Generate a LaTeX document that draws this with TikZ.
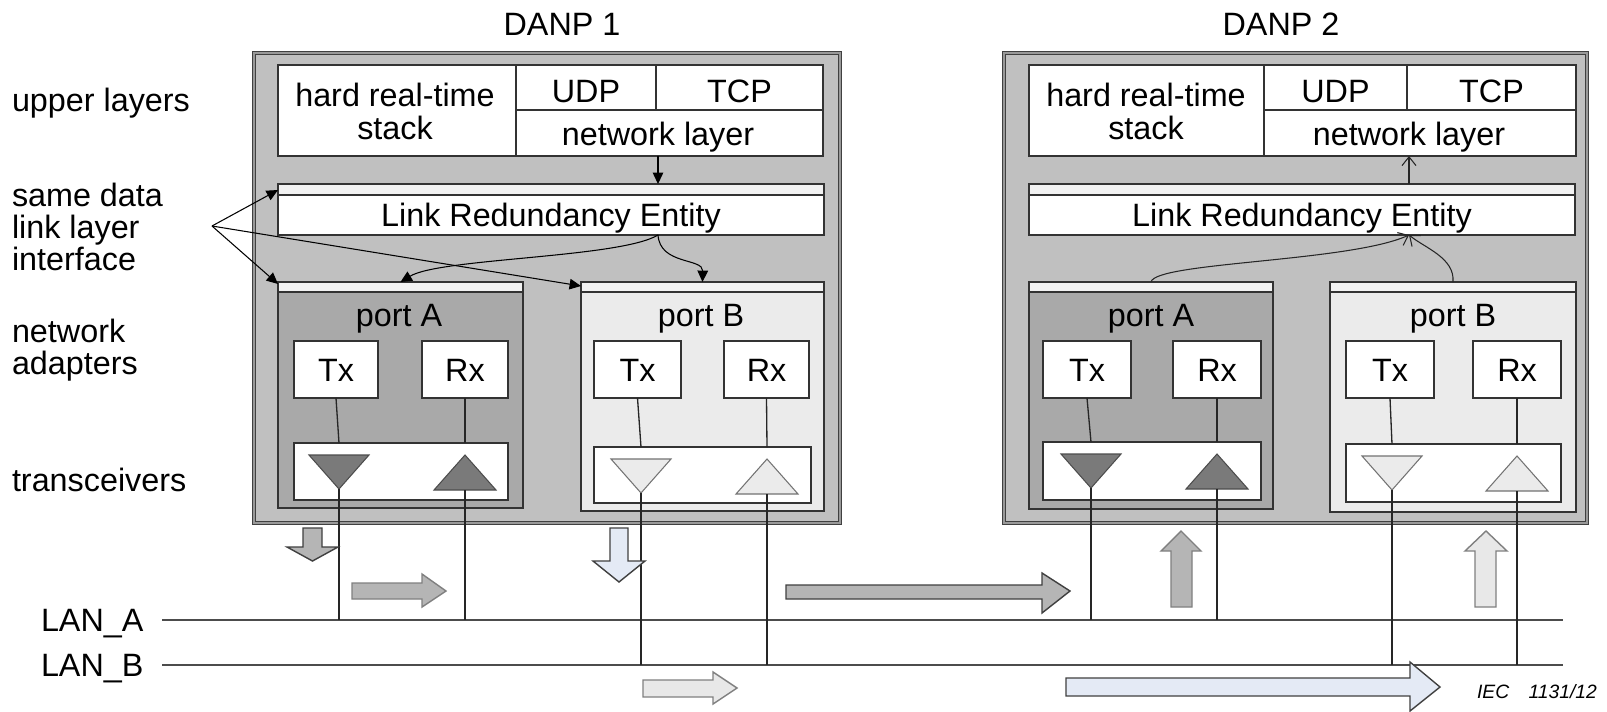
\documentclass[tikz,border=0pt]{standalone}
\usepackage{fontspec}
\setmainfont{Liberation Sans}
\usetikzlibrary{arrows.meta,fit,calc}
\definecolor{danpfill}{HTML}{C0C0C0}
\definecolor{portAfill}{HTML}{A9A9A9}
\definecolor{portBfill}{HTML}{EBEBEB}
\definecolor{stripfill}{HTML}{F2F2F2}
\definecolor{triAfill}{HTML}{7A7A7A}
\definecolor{triBfill}{HTML}{EBEBEB}
\definecolor{arrgray}{HTML}{B5B5B5}
\definecolor{arrlight}{HTML}{E8E8E8}
\definecolor{arrblue}{HTML}{E4EAF5}
\begin{document}
\begin{tikzpicture}[x=0.02cm,y=-0.02cm,
  every node/.style={inner sep=0pt,outer sep=0pt,font=\fontsize{18.4}{18.4}\selectfont},
  lbl/.style={anchor=base},
  lblw/.style={anchor=base west},
  danpbox/.style={draw=black!75,double=black!40,double distance=1.2pt,line width=0.6pt,fill=danpfill},
  wbox/.style={draw=black!80,line width=0.8pt,fill=white},
  portAbox/.style={draw=black!80,line width=0.9pt,fill=portAfill},
  portBbox/.style={draw=black!80,line width=0.9pt,fill=portBfill},
  strip/.style={draw=black!80,line width=0.8pt,fill=stripfill},
  wire/.style={draw=black!85,line width=0.75pt},
  lan/.style={draw=black!70,line width=1.1pt},
  pointer/.style={draw=black,line width=0.6pt,-{Triangle[length=6.5pt,width=6pt]}},
  opener/.style={draw=black!85,line width=0.6pt,-{Straight Barb[length=5pt,width=8pt]}},
  triA/.style={draw=black!70,line width=0.6pt,fill=triAfill},
  triB/.style={draw=black!55,line width=0.6pt,fill=triBfill},
  blkdark/.style={draw=black!75,line width=0.8pt,line join=miter},
  blkpale/.style={draw=black!50,line width=0.8pt,line join=miter},
]
\useasboundingbox (0,0) rectangle (1607,711);
\fill[white] (0,0) rectangle (1607,711);

% ---------- titles and layer labels ----------
\node[lbl] (t1) at (562,35) {DANP 1};
\node[lbl] (t2) at (1281,35) {DANP 2};
\node[lblw] (l1) at (12,111) {upper layers};
\node[lblw] (l2a) at (12,206) {same data};
\node[lblw] (l2b) at (12,238) {link layer};
\node[lblw] (l2c) at (12,270) {interface};
\node[lblw] (l3a) at (12,342) {network};
\node[lblw] (l3b) at (12,374) {adapters};
\node[lblw] (l4) at (12,491) {transceivers};
\node[lblw] (lanAt) at (41,631) {LAN\_A};
\node[lblw] (lanBt) at (41,676) {LAN\_B};
\node[anchor=base west,font=\fontsize{11}{12}\selectfont\itshape] (iec) at (1477,698) {IEC\quad 1131/12};

% ---------- LAN lines ----------
\coordinate (lanA0) at (162,620);
\coordinate (lanA1) at (1563,620);
\coordinate (lanB0) at (162,665);
\coordinate (lanB1) at (1563,665);
\draw[lan] (lanA0) -- (lanA1);
\draw[lan] (lanB0) -- (lanB1);

% ================= DANP 1 =================
\node[danpbox, fit={(254,53) (840,523)}] (danp1) {};
\node[wbox, fit={(278,65) (516,156)}] (hrt1) {};
\node[wbox, fit={(516,65) (656,110)}] (udp1) {};
\node[wbox, fit={(656,65) (823,110)}] (tcp1) {};
\node[wbox, fit={(516,110) (823,156)}] (net1) {};
\node[lbl] (hrt1a) at (395,106) {hard real-time};
\node[lbl] (hrt1b) at (395,139) {stack};
\node[lbl] (udp1t) at (586,102) {UDP};
\node[lbl] (tcp1t) at (739.5,102) {TCP};
\node[lbl] (nl1) at (658,145) {network layer};

\node[wbox, fit={(278,184) (824,235)}] (lre1) {};
\node[strip, fit={(278,184) (824,195)}] (lre1s) {};
\node[lbl] (lre1t) at (551,226) {Link Redundancy Entity};

\node[portAbox, fit={(278,282) (523,508)}] (pA1) {};
\node[strip, fit={(278,282) (523,292)}] (pA1s) {};
\node[lbl] (pA1t) at (399,326) {port A};
\node[wbox, fit={(294,341) (378,398)}] (txA1) {};
\node[wbox, fit={(422,341) (508,398)}] (rxA1) {};
\node[wbox, fit={(294,443) (508,500)}] (trxA1) {};
\draw[triA] (309,455) -- (369,455) -- (339,489) -- cycle;
\draw[triA] (465,455) -- (496,490) -- (434,490) -- cycle;
\coordinate (dnA1) at (339,489);
\coordinate (upA1) at (465,490);

\node[portBbox, fit={(581,282) (824,511)}] (pB1) {};
\node[strip, fit={(581,282) (824,292)}] (pB1s) {};
\node[lbl] (pB1t) at (701,326) {port B};
\node[wbox, fit={(594,341) (681,398)}] (txB1) {};
\node[wbox, fit={(724,341) (809,398)}] (rxB1) {};
\node[wbox, fit={(594,447) (811,503)}] (trxB1) {};
\draw[triB] (611,459) -- (671,459) -- (641,493) -- cycle;
\draw[triB] (767,459) -- (798,494) -- (736,494) -- cycle;
\coordinate (dnB1) at (641,493);
\coordinate (upB1) at (767,494);

% ================= DANP 2 =================
\node[danpbox, fit={(1004,53) (1587,523)}] (danp2) {};
\node[wbox, fit={(1029,65) (1264,156)}] (hrt2) {};
\node[wbox, fit={(1264,65) (1407,110)}] (udp2) {};
\node[wbox, fit={(1407,65) (1576,110)}] (tcp2) {};
\node[wbox, fit={(1264,110) (1576,156)}] (net2) {};
\node[lbl] (hrt2a) at (1146,106) {hard real-time};
\node[lbl] (hrt2b) at (1146,139) {stack};
\node[lbl] (udp2t) at (1335.5,102) {UDP};
\node[lbl] (tcp2t) at (1491.5,102) {TCP};
\node[lbl] (nl2) at (1409,145) {network layer};

\node[wbox, fit={(1029,184) (1575,235)}] (lre2) {};
\node[strip, fit={(1029,184) (1575,195)}] (lre2s) {};
\node[lbl] (lre2t) at (1302,226) {Link Redundancy Entity};

\node[portAbox, fit={(1029,282) (1273,509)}] (pA2) {};
\node[strip, fit={(1029,282) (1273,292)}] (pA2s) {};
\node[lbl] (pA2t) at (1151,326) {port A};
\node[wbox, fit={(1043,341) (1131,398)}] (txA2) {};
\node[wbox, fit={(1173,341) (1261,398)}] (rxA2) {};
\node[wbox, fit={(1043,442) (1261,500)}] (trxA2) {};
\draw[triA] (1061,454) -- (1121,454) -- (1091,488) -- cycle;
\draw[triA] (1217,454) -- (1248,489) -- (1186,489) -- cycle;
\coordinate (dnA2) at (1091,488);
\coordinate (upA2) at (1217,489);

\node[portBbox, fit={(1330,282) (1576,512)}] (pB2) {};
\node[strip, fit={(1330,282) (1576,292)}] (pB2s) {};
\node[lbl] (pB2t) at (1453,326) {port B};
\node[wbox, fit={(1346,341) (1434,398)}] (txB2) {};
\node[wbox, fit={(1473,341) (1561,398)}] (rxB2) {};
\node[wbox, fit={(1346,444) (1561,502)}] (trxB2) {};
\draw[triB] (1362,456) -- (1422,456) -- (1392,490) -- cycle;
\draw[triB] (1517,456) -- (1548,491) -- (1486,491) -- cycle;
\coordinate (dnB2) at (1392,490);
\coordinate (upB2) at (1517,491);

% ---------- Tx/Rx labels, links to transceivers and down to the LANs ----------
\foreach \p/\lan in {A1/lanA0,B1/lanB0,A2/lanA0,B2/lanB0}{
  \node[lbl] (tx\p t) at ($(tx\p.center)+(0,12)$) {Tx};
  \node[lbl] (rx\p t) at ($(rx\p.center)+(0,12)$) {Rx};
  \draw[wire] (tx\p.south) -- (trx\p.north -| dn\p);
  \draw[wire] (rx\p.south) -- (trx\p.north -| up\p);
  \draw[wire] (dn\p) -- (dn\p |- \lan);
  \draw[wire] (up\p) -- (up\p |- \lan);
}

% ---------- internal arrows, DANP 1 ----------
\draw[pointer] (nl1 |- net1.south) -- (nl1 |- lre1.north);
\coordinate (lre1out) at (nl1 |- lre1.south);
\draw[pointer] (lre1out) .. controls (620,258) and (440,258) .. (pA1.north);
\draw[pointer] (lre1out) .. controls (660,265) and (703,258) .. (pB1.north);

% same data link layer interface
\coordinate (sdli) at (212,226);
\draw[pointer] (sdli) -- ($(lre1.north west)+(0,6)$);
\draw[pointer] (sdli) -- ($(pA1.north west)+(0,2)$);
\draw[pointer] (sdli) -- ($(pB1.north west)+(0,4)$);

% ---------- internal arrows, DANP 2 ----------
\draw[opener] (nl2 |- lre2.north) -- (nl2 |- net2.south);
\coordinate (lre2in) at (nl2 |- lre2.south);
\draw[opener] (pA2.north) .. controls (1155,262) and (1350,262) .. (lre2in);
\draw[opener] (pB2.north) .. controls (1455,258) and (1425,248) .. (lre2in);

% ---------- frame flow block arrows ----------
\path[blkdark,fill=arrgray] (303,528) -- (322,528) -- (322,547) -- (338,547) -- (312.5,561) -- (287,547) -- (303,547) -- cycle;
\path[blkpale,fill=arrgray] (352,583) -- (422,583) -- (422,574) -- (446,591) -- (422,607) -- (422,599) -- (352,599) -- cycle;
\path[blkdark,fill=arrblue] (610,528) -- (628,528) -- (628,561) -- (645,561) -- (619,582) -- (593,561) -- (610,561) -- cycle;
\path[blkpale,fill=arrlight] (643,680) -- (713,680) -- (713,672) -- (737,688) -- (713,704) -- (713,697) -- (643,697) -- cycle;
\path[blkdark,fill=arrgray] (786,585) -- (1042,585) -- (1042,573) -- (1070,591) -- (1042,613) -- (1042,599) -- (786,599) -- cycle;
\path[blkpale,fill=arrgray] (1171,607) -- (1171,551) -- (1161,551) -- (1181,531) -- (1201,551) -- (1192,551) -- (1192,607) -- cycle;
\path[blkpale,fill=arrlight] (1475,607) -- (1475,551) -- (1465,551) -- (1486,531) -- (1507,551) -- (1496,551) -- (1496,607) -- cycle;
\path[blkdark,fill=arrblue] (1066,678) -- (1410,678) -- (1410,662) -- (1440,687) -- (1410,711) -- (1410,696) -- (1066,696) -- cycle;
\end{tikzpicture}
\end{document}
